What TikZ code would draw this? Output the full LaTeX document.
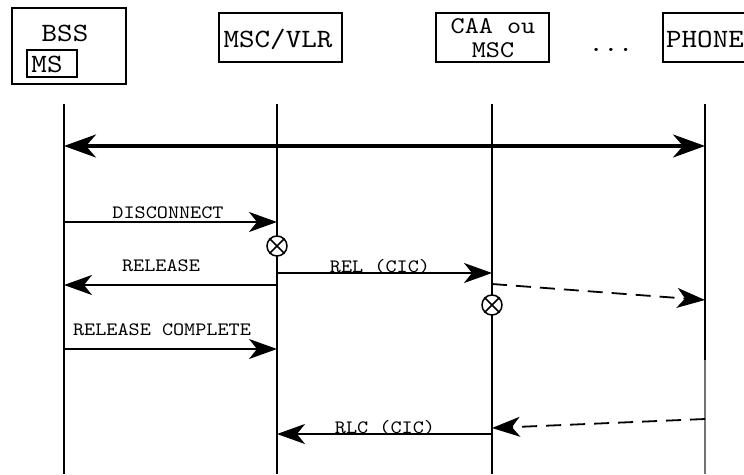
\documentclass[tikz,border=0pt]{standalone}
\usepackage{fontspec}
\setmonofont[FakeStretch=1.12]{lmmono10-regular.otf}
\usetikzlibrary{arrows.meta}
\begin{document}
\begin{tikzpicture}[x=1pt,y=-1pt,
  box/.style={draw,line width=1.6pt,inner sep=0pt},
  big/.style={font=\ttfamily\fontsize{26.4}{21}\selectfont,inner sep=0pt,align=center},
  lbl/.style={font=\ttfamily\fontsize{18.9}{20}\selectfont,inner sep=0pt,anchor=base},
  life/.style={line width=1.8pt},
  msg/.style={line width=1.8pt,-{Stealth[length=28pt,width=20pt,inset=8pt]}},
  dmsg/.style={msg,dash pattern=on 15pt off 9pt},
  bothway/.style={line width=3.6pt,{Stealth[length=32pt,width=23pt,inset=10pt]}-{Stealth[length=32pt,width=23pt,inset=10pt]}},
  cross/.style={circle,draw,fill=white,minimum size=20pt,inner sep=0pt,line width=1.5pt}
]
\useasboundingbox (0,0) rectangle (744,474);

% boxes
\node[box,minimum width=114pt,minimum height=76pt] (bss) at (69,46) {};
\node[big] (bsst) at (65,33) {BSS};
\node[box,minimum width=50pt,minimum height=27pt] (ms) at (52,63.5) {};
\node[big] (mst) at (47,64) {MS};
\node[box,minimum width=123pt,minimum height=49pt] (msc) at (280.5,37.5) {};
\node[big] (msct) at (278,39) {MSC/VLR};
\node[box,minimum width=113pt,minimum height=49pt] (caa) at (492.5,37.5) {};
\node[big,anchor=base,font=\ttfamily\fontsize{24}{20}\selectfont] (caat1) at (493,33) {CAA ou};
\node[big,anchor=base,font=\ttfamily\fontsize{24}{20}\selectfont] (caat2) at (493,57) {MSC};
\node[lbl,font=\ttfamily\fontsize{25}{20}\selectfont] (dots) at (611,51) {...};
\node[box,minimum width=85pt,minimum height=49pt] (ph) at (705.5,37.5) {};
\node[big] (pht) at (705,39) {PHONE};

% lifelines
\coordinate (l1t) at (64,104);  \coordinate (l1b) at (64,474);
\coordinate (l2t) at (277,104); \coordinate (l2b) at (277,474);
\coordinate (l3t) at (492,104); \coordinate (l3b) at (492,474);
\coordinate (l4t) at (705,104); \coordinate (l4m) at (705,360); \coordinate (l4b) at (705,474);
\draw[life] (l1t) -- (l1b);
\draw[life] (l2t) -- (l2b);
\draw[life] (l3t) -- (l3b);
\draw[life] (l4t) -- (l4m);
\draw[life,black!55] (l4m) -- (l4b);

% message end points
\coordinate (a1) at (64,146);  \coordinate (a4) at (705,146);
\coordinate (d1) at (64,222);  \coordinate (d2) at (277,222);
\coordinate (r2) at (277,285); \coordinate (r1) at (64,285);
\coordinate (e2) at (277,273); \coordinate (e3) at (492,273);
\coordinate (c1) at (64,349);  \coordinate (c2) at (277,349);
\coordinate (k3) at (492,434); \coordinate (k2) at (277,434);
\coordinate (f3) at (492,284); \coordinate (f4) at (705,300);
\coordinate (g4) at (705,419); \coordinate (g3) at (492,428);

\draw[bothway] (a1) -- (a4);
\draw[msg] (d1) -- (d2);
\draw[msg] (r2) -- (r1);
\draw[msg] (e2) -- (e3);
\draw[msg] (c1) -- (c2);
\draw[msg] (k3) -- (k2);
\draw[dmsg] (f3) -- (f4);
\draw[dmsg] (g4) -- (g3);

% labels
\node[lbl] (ldisc) at (168,218) {DISCONNECT};
\node[lbl] (lrel) at (161,271) {RELEASE};
\node[lbl] (lrelc) at (162,335) {RELEASE COMPLETE};
\node[lbl] (lrelcic) at (380,272) {REL (CIC)};
\node[lbl] (lrlc) at (385,433) {RLC (CIC)};

% release points
\node[cross] (x1) at (277,246) {};
\draw[line width=1.5pt] (x1.north west) -- (x1.south east) (x1.north east) -- (x1.south west);
\node[cross] (x2) at (492,305) {};
\draw[line width=1.5pt] (x2.north west) -- (x2.south east) (x2.north east) -- (x2.south west);
\end{tikzpicture}
\end{document}
